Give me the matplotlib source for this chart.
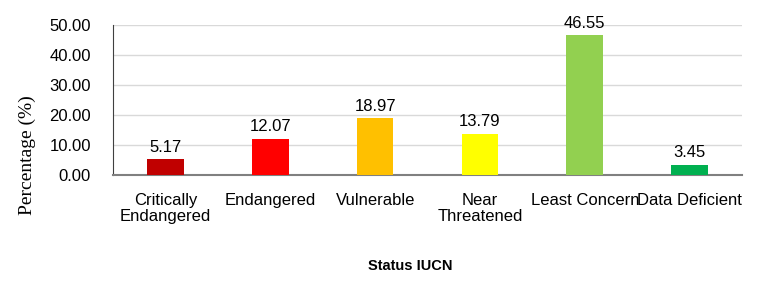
import matplotlib.pyplot as plt

categories = ["Critically\nEndangered", "Endangered", "Vulnerable",
              "Near\nThreatened", "Least Concern", "Data Deficient"]
values = [5.17, 12.07, 18.97, 13.79, 46.55, 3.45]
colors = ["#C00000", "#FF0000", "#FFC000", "#FFFF00", "#92D050", "#00B050"]

plt.rcParams['font.family'] = ['Liberation Sans', 'DejaVu Sans']

fig = plt.figure(figsize=(7.69, 2.92), dpi=100)
ax = fig.add_axes([0.147, 0.401, 0.818, 0.513])

x = range(len(categories))
bars = ax.bar(x, values, width=0.35, color=colors, zorder=3)
for i, v in enumerate(values):
    ax.text(i, v + 1.5, f"{v:.2f}", ha="center", va="bottom", fontsize=12)

ax.set_xlim(-0.5, len(categories) - 0.5)
ax.set_ylim(0, 50)
ax.set_yticks([0, 10, 20, 30, 40, 50])
ax.set_yticklabels([f"{t:.2f}" for t in [0, 10, 20, 30, 40, 50]], fontsize=12)
ax.set_xticks(list(x))
ax.set_xticklabels(categories, fontsize=12, linespacing=1.1)
ax.tick_params(length=0, pad=13)
ax.tick_params(axis="y", pad=16)

ax.grid(axis="y", color="#D9D9D9", linewidth=1, zorder=0)
for s in ["top", "right"]:
    ax.spines[s].set_visible(False)
ax.spines["left"].set_color("#404040")
ax.spines["bottom"].set_color("#808080")
ax.spines["bottom"].set_linewidth(1.5)

# y label sits lower than the axes centre in the original
fig.text(0.036, 0.47, "Percentage (%)", family="Liberation Serif", fontsize=14,
         rotation=90, ha="center", va="center")
fig.text(0.534, 0.09, "Status IUCN", ha="center", va="center",
         fontsize=10.5, fontweight="bold")

fig.savefig("out.png", dpi=100)
